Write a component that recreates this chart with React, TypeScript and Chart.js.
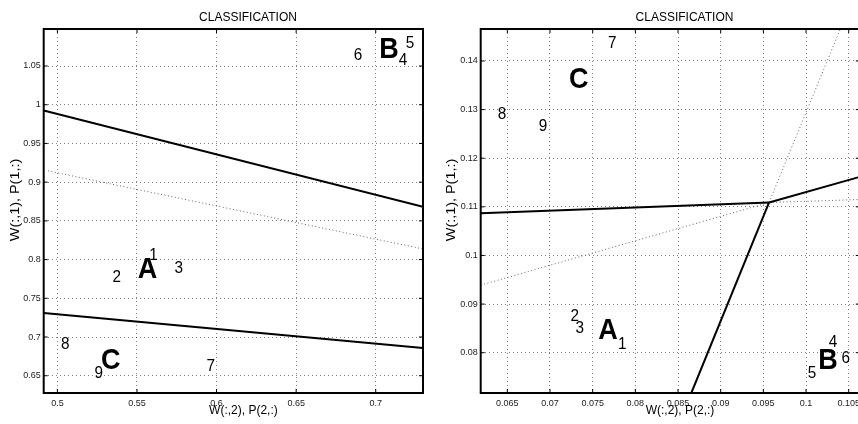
import React, { useEffect, useRef } from "react";
import { Chart, registerables } from "chart.js";

Chart.register(...registerables);

const FONT = '"Liberation Sans", Arial, Helvetica, sans-serif';
const TITLE = "CLASSIFICATION";
const X_TITLE = "W(:,2), P(2,:)";
const Y_TITLE = "W(:,1), P(1,:)";

// ---------- Left panel data ----------
const leftXRange = [0.4914, 0.7297];
const leftYRange = [0.6277, 1.0978];
const leftXTicks = [0.5, 0.55, 0.6, 0.65, 0.7];
const leftXTickLabels = ["0.5", "0.55", "0.6", "0.65", "0.7"];
const leftYTicks = [0.65, 0.7, 0.75, 0.8, 0.85, 0.9, 0.95, 1, 1.05];
const leftYTickLabels = ["0.65", "0.7", "0.75", "0.8", "0.85", "0.9", "0.95", "1", "1.05"];
const leftUpperSolid = [
  { x: 0.4914, y: 0.9926 },
  { x: 0.7297, y: 0.8681 },
];
const leftLowerSolid = [
  { x: 0.4914, y: 0.731 },
  { x: 0.7297, y: 0.6858 },
];
const leftMiddleDotted = [
  { x: 0.4941, y: 0.9146 },
  { x: 0.7297, y: 0.8137 },
];
const leftSampleNames = ["1", "2", "3", "4", "5", "6", "7", "8", "9"];
const leftSampleX = [0.5604, 0.5373, 0.5763, 0.7172, 0.7216, 0.6889, 0.5964, 0.505, 0.526];
const leftSampleY = [0.8056, 0.7766, 0.7882, 1.0579, 1.0798, 1.0643, 0.6625, 0.691, 0.6526];
const leftClassNames = ["A", "B", "C"];
const leftClassX = [0.5566, 0.7084, 0.5335];
const leftClassY = [0.7875, 1.0708, 0.669];

// ---------- Right panel data ----------
const rightXRange = [0.06188, 0.1063];
const rightYRange = [0.07171, 0.14658];
const rightXTicks = [0.065, 0.07, 0.075, 0.08, 0.085, 0.09, 0.095, 0.1, 0.105];
const rightXTickLabels = ["0.065", "0.07", "0.075", "0.08", "0.085", "0.09", "0.095", "0.1", "0.105"];
const rightYTicks = [0.08, 0.09, 0.1, 0.11, 0.12, 0.13, 0.14];
const rightYTickLabels = ["0.08", "0.09", "0.1", "0.11", "0.12", "0.13", "0.14"];
const rightFlatSolid = [
  { x: 0.06188, y: 0.1087 },
  { x: 0.09567, y: 0.1109 },
];
const rightFlatDotted = [
  { x: 0.09567, y: 0.1109 },
  { x: 0.1063, y: 0.1115 },
];
const rightRisingDotted = [
  { x: 0.06188, y: 0.0939 },
  { x: 0.09567, y: 0.1109 },
];
const rightRisingSolid = [
  { x: 0.09567, y: 0.1109 },
  { x: 0.1063, y: 0.11617 },
];
const rightSteepDotted = [
  { x: 0.09567, y: 0.1109 },
  { x: 0.10402, y: 0.14658 },
];
const rightSteepSolid = [
  { x: 0.09567, y: 0.1109 },
  { x: 0.08656, y: 0.07171 },
];
const rightSampleNames = ["1", "2", "3", "4", "5", "6", "7", "8", "9"];
const rightSampleX = [0.07848, 0.0729, 0.07348, 0.10316, 0.1007, 0.10465, 0.0773, 0.06438, 0.06918];
const rightSampleY = [0.08168, 0.08739, 0.08498, 0.0822, 0.07568, 0.07876, 0.1437, 0.12894, 0.12653];
const rightClassNames = ["A", "B", "C"];
const rightClassX = [0.0768, 0.10258, 0.07337];
const rightClassY = [0.08444, 0.07844, 0.13615];

type Pt = { x: number; y: number };

interface PanelCfg {
  width: number;
  height: number;
  yAxisWidth: number;
  xAxisHeight: number;
  padTop: number;
  padRight: number;
  xRange: number[];
  yRange: number[];
  xTicks: number[];
  xTickLabels: string[];
  yTicks: number[];
  yTickLabels: string[];
  solid: Pt[][];
  dotted: Pt[][];
  sampleNames: string[];
  sampleX: number[];
  sampleY: number[];
  classNames: string[];
  classX: number[];
  classY: number[];
  titleX: number;
  xTitleX: number;
  yTitleX: number;
  yTitleY: number;
}

function makeDecor(cfg: PanelCfg) {
  return {
    id: "decor",
    afterDatasetsDraw(chart: any) {
      const { ctx, scales } = chart;
      const xs = scales.x;
      const ys = scales.y;
      ctx.save();
      ctx.fillStyle = "#000";
      ctx.textAlign = "center";
      ctx.textBaseline = "middle";
      ctx.font = `17px ${FONT}`;
      cfg.sampleNames.forEach((t, i) => {
        const px = xs.getPixelForValue(cfg.sampleX[i]);
        const py = ys.getPixelForValue(cfg.sampleY[i]);
        ctx.save();
        ctx.translate(px, py);
        ctx.scale(0.9, 1);
        ctx.fillText(t, 0, 0);
        ctx.restore();
      });
      ctx.font = `bold 30px ${FONT}`;
      cfg.classNames.forEach((t, i) => {
        const px = xs.getPixelForValue(cfg.classX[i]);
        const py = ys.getPixelForValue(cfg.classY[i]);
        ctx.save();
        ctx.translate(px, py);
        ctx.scale(0.9, 1);
        ctx.fillText(t, 0, 0);
        ctx.restore();
      });
      ctx.restore();
    },
    afterDraw(chart: any) {
      const { ctx, chartArea, scales } = chart;
      const { left, right, top, bottom } = chartArea;
      ctx.save();
      // inward tick marks on all four sides
      ctx.strokeStyle = "#000";
      ctx.lineWidth = 1;
      ctx.beginPath();
      scales.x.ticks.forEach((t: any) => {
        const px = scales.x.getPixelForValue(t.value);
        ctx.moveTo(px, bottom);
        ctx.lineTo(px, bottom - 4);
        ctx.moveTo(px, top);
        ctx.lineTo(px, top + 4);
      });
      scales.y.ticks.forEach((t: any) => {
        const py = scales.y.getPixelForValue(t.value);
        ctx.moveTo(left, py);
        ctx.lineTo(left + 4, py);
        ctx.moveTo(right, py);
        ctx.lineTo(right - 4, py);
      });
      ctx.stroke();
      // box
      ctx.lineWidth = 2;
      ctx.strokeRect(left, top, right - left, bottom - top);
      // titles
      ctx.fillStyle = "#000";
      ctx.textAlign = "center";
      ctx.textBaseline = "alphabetic";
      ctx.font = `12px ${FONT}`;
      ctx.fillText(TITLE, cfg.titleX, 21);
      ctx.fillText(X_TITLE, cfg.xTitleX, 414);
      ctx.translate(cfg.yTitleX, cfg.yTitleY);
      ctx.rotate(-Math.PI / 2);
      ctx.scale(1.2, 1);
      ctx.fillText(Y_TITLE, 0, 0);
      ctx.restore();
    },
  };
}

function Panel({ cfg }: { cfg: PanelCfg }) {
  const ref = useRef<HTMLCanvasElement | null>(null);
  useEffect(() => {
    if (!ref.current) return;
    const datasets: any[] = [];
    cfg.solid.forEach((d) =>
      datasets.push({
        data: d,
        showLine: true,
        borderColor: "#000",
        borderWidth: 2,
        pointRadius: 0,
      })
    );
    cfg.dotted.forEach((d) =>
      datasets.push({
        data: d,
        showLine: true,
        borderColor: "#666",
        borderWidth: 1,
        borderDash: [1, 2.5],
        pointRadius: 0,
      })
    );
    const gridOpts = {
      color: "rgba(0,0,0,0.5)",
      lineWidth: 1,
      drawTicks: false,
    };
    const chart = new Chart(ref.current, {
      type: "scatter",
      data: { datasets },
      options: {
        animation: false,
        responsive: false,
        events: [],
        layout: { padding: { top: cfg.padTop, right: cfg.padRight, left: 0, bottom: 0 } },
        plugins: { legend: { display: false }, tooltip: { enabled: false }, title: { display: false } },
        scales: {
          x: {
            type: "linear",
            min: cfg.xRange[0],
            max: cfg.xRange[1],
            grid: gridOpts,
            border: { display: false, dash: [1, 3] },
            afterBuildTicks: (axis: any) => {
              axis.ticks = cfg.xTicks.map((v) => ({ value: v }));
            },
            afterFit: (axis: any) => {
              axis.height = cfg.xAxisHeight;
            },
            ticks: {
              autoSkip: false,
              maxRotation: 0,
              padding: 5,
              color: "#222",
              font: { family: FONT, size: 9 },
              callback: (_v: any, i: number) => cfg.xTickLabels[i],
            },
          },
          y: {
            type: "linear",
            min: cfg.yRange[0],
            max: cfg.yRange[1],
            grid: gridOpts,
            border: { display: false, dash: [1, 3] },
            afterBuildTicks: (axis: any) => {
              axis.ticks = cfg.yTicks.map((v) => ({ value: v }));
            },
            afterFit: (axis: any) => {
              axis.width = cfg.yAxisWidth;
            },
            ticks: {
              autoSkip: false,
              padding: 3,
              color: "#222",
              font: { family: FONT, size: 9 },
              callback: (_v: any, i: number) => cfg.yTickLabels[i],
            },
          },
        },
      } as any,
      plugins: [makeDecor(cfg)],
    });
    return () => chart.destroy();
  }, [cfg]);
  return <canvas ref={ref} width={cfg.width} height={cfg.height} style={{ display: "block" }} />;
}

const leftCfg: PanelCfg = {
  width: 430,
  height: 424,
  yAxisWidth: 43.7,
  xAxisHeight: 31,
  padTop: 29,
  padRight: 7,
  xRange: leftXRange,
  yRange: leftYRange,
  xTicks: leftXTicks,
  xTickLabels: leftXTickLabels,
  yTicks: leftYTicks,
  yTickLabels: leftYTickLabels,
  solid: [leftUpperSolid, leftLowerSolid],
  dotted: [leftMiddleDotted],
  sampleNames: leftSampleNames,
  sampleX: leftSampleX,
  sampleY: leftSampleY,
  classNames: leftClassNames,
  classX: leftClassX,
  classY: leftClassY,
  titleX: 248,
  xTitleX: 243.4,
  yTitleX: 18.5,
  yTitleY: 200,
};

const rightCfg: PanelCfg = {
  width: 440,
  height: 424,
  yAxisWidth: 50.7,
  xAxisHeight: 31,
  padTop: 29,
  padRight: 10.2,
  xRange: rightXRange,
  yRange: rightYRange,
  xTicks: rightXTicks,
  xTickLabels: rightXTickLabels,
  yTicks: rightYTicks,
  yTickLabels: rightYTickLabels,
  solid: [rightFlatSolid, rightRisingSolid, rightSteepSolid],
  dotted: [rightFlatDotted, rightRisingDotted, rightSteepDotted],
  sampleNames: rightSampleNames,
  sampleX: rightSampleX,
  sampleY: rightSampleY,
  classNames: rightClassNames,
  classX: rightClassX,
  classY: rightClassY,
  titleX: 254.5,
  xTitleX: 250,
  yTitleX: 25,
  yTitleY: 200,
};

export default function App() {
  return (
    <div
      style={{
        position: "fixed",
        left: 0,
        top: 0,
        width: 858,
        height: 424,
        overflow: "hidden",
        background: "#fff",
      }}
    >
      <div style={{ position: "absolute", left: 0, top: 0 }}>
        <Panel cfg={leftCfg} />
      </div>
      <div style={{ position: "absolute", left: 430, top: 0 }}>
        <Panel cfg={rightCfg} />
      </div>
    </div>
  );
}
